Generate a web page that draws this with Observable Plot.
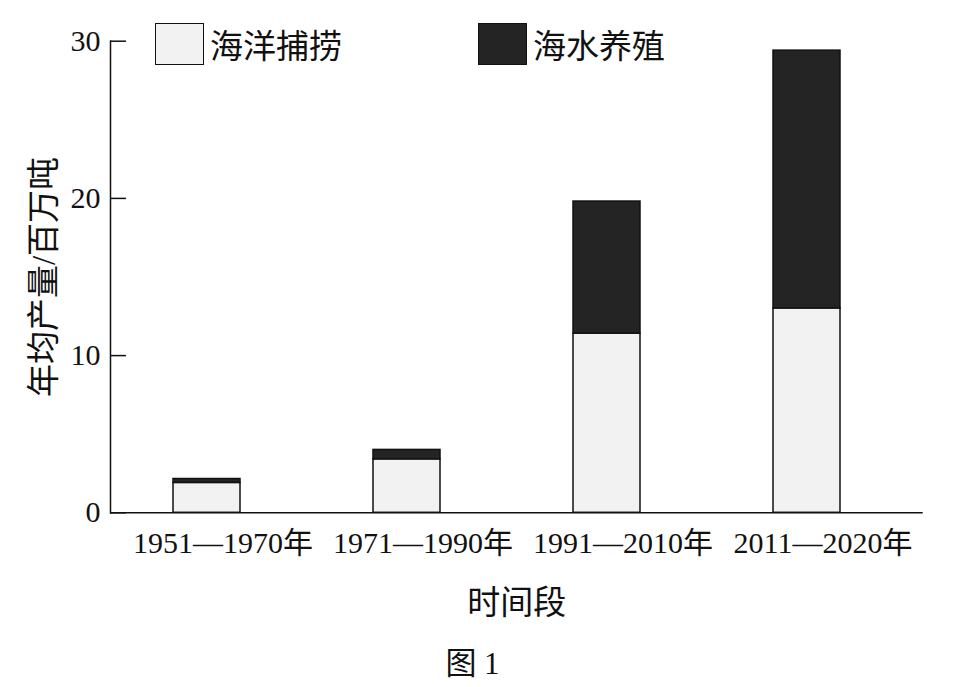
<!DOCTYPE html>
<html>
<head>
<meta charset="utf-8">
<script src="https://cdn.jsdelivr.net/npm/d3@7"></script>
<script src="https://cdn.jsdelivr.net/npm/@observablehq/plot@0.6"></script>
<style>
  html, body { margin: 0; padding: 0; background: #fff; }
  #wrap { position: relative; width: 965px; height: 687px; overflow: hidden; background: #fff; }
  .legend { position: absolute; top: 20px; display: flex; align-items: center; font-family: "Noto Sans CJK SC", sans-serif; font-size: 33px; color: #111; }
  .legend .sw { width: 47px; height: 40px; border: 1.5px solid #111; margin-right: 6px; }
  #cap { position: absolute; left: 0; top: 638px; width: 945px; text-align: center; font-family: "Liberation Serif", "Noto Sans CJK SC", serif; font-size: 31px; color: #111; }
</style>
</head>
<body>
<div id="wrap"></div>
<script>
const periods = ["1951—1970年", "1971—1990年", "1991—2010年", "2011—2020年"];
const seriesNames = ["海洋捕捞", "海水养殖"];
const capture = [1.9, 3.4, 11.4, 13.0];
const aquaculture = [0.25, 0.6, 8.4, 16.4];
const seriesColors = ["#f2f2f2", "#242424"];
const yTicks = [0, 10, 20, 30];
const yLabel = "年均产量/百万吨";
const xLabel = "时间段";
const caption = "图 1";

const data = [];
periods.forEach((p, i) => {
  data.push({period: p, series: seriesNames[0], value: capture[i]});
  data.push({period: p, series: seriesNames[1], value: aquaculture[i]});
});

const serif = "'Liberation Serif', 'Noto Sans CJK SC', serif";

const chart = Plot.plot({
  width: 965,
  height: 636,
  marginTop: 40.7,
  marginBottom: 123.7,
  marginLeft: 110,
  marginRight: 42.3,
  style: {fontFamily: serif, fontSize: "30px", color: "#111", background: "#fff", overflow: "visible"},
  x: {domain: periods, paddingInner: 0.665, paddingOuter: 0.364, align: 0.43, label: null},
  y: {domain: [0, 30], label: null},
  color: {domain: seriesNames, range: seriesColors},
  marks: [
    Plot.barY(data, {x: "period", y: "value", fill: "series", stroke: "#111", strokeWidth: 1.5}),
    Plot.frame({anchor: "left", stroke: "#111", strokeWidth: 1.5}),
    Plot.axisY({ticks: yTicks, tickSize: -16, fill: "none", label: null, strokeWidth: 1.5}),
    Plot.axisY({ticks: yTicks, tickSize: 0, tickPadding: 10, fontSize: 30, label: null}),
    Plot.axisY({ticks: [], tickSize: 0, fontSize: 33, label: yLabel, labelAnchor: "center", labelOffset: 79, labelArrow: "none"}),
    Plot.axisX({tickSize: 0, tickPadding: 19, dx: 16, fontSize: 30, label: null}),
    Plot.axisX({ticks: [], tickSize: 0, fontSize: 33, label: xLabel, labelAnchor: "center", labelOffset: 101, labelArrow: "none"}),
    Plot.ruleY([0], {stroke: "#111", strokeWidth: 1.5})
  ]
});

const wrap = document.getElementById("wrap");
wrap.appendChild(chart);

const legendPos = [155, 478];
seriesNames.forEach((name, i) => {
  const item = document.createElement("div");
  item.className = "legend";
  item.style.left = legendPos[i] + "px";
  const sw = document.createElement("div");
  sw.className = "sw";
  sw.style.background = seriesColors[i];
  const t = document.createElement("span");
  t.textContent = name;
  item.appendChild(sw);
  item.appendChild(t);
  wrap.appendChild(item);
});

const cap = document.createElement("div");
cap.id = "cap";
cap.textContent = caption;
wrap.appendChild(cap);
</script>
</body>
</html>
